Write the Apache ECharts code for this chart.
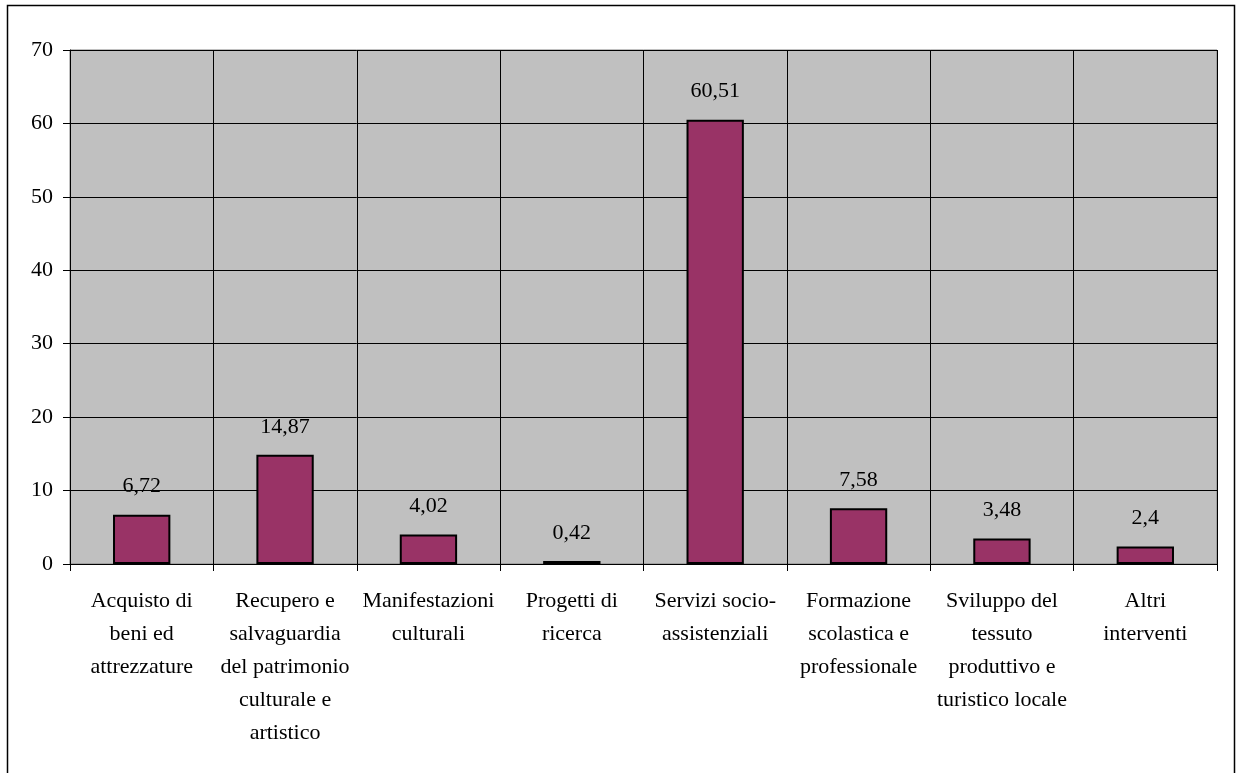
<!DOCTYPE html>
<html>
<head>
<meta charset="utf-8">
<script src="https://cdn.jsdelivr.net/npm/echarts@6/dist/echarts.min.js"></script>
<style>
  html, body { margin: 0; padding: 0; background: #ffffff; }
  #chart { width: 1238px; height: 773px; }
</style>
</head>
<body>
<div id="chart"></div>
<script>
// Categories of intervention (labels wrapped as drawn under the axis)
const categories = [
  'Acquisto di\nbeni ed\nattrezzature',
  'Recupero e\nsalvaguardia\ndel patrimonio\nculturale e\nartistico',
  'Manifestazioni\nculturali',
  'Progetti di\nricerca',
  'Servizi socio-\nassistenziali',
  'Formazione\nscolastica e\nprofessionale',
  'Sviluppo del\ntessuto\nproduttivo e\nturistico locale',
  'Altri\ninterventi'
];

// Percentage share for each category
const values = [6.72, 14.87, 4.02, 0.42, 60.51, 7.58, 3.48, 2.4];

// Value axis range
const yMin = 0;
const yMax = 70;
const yStep = 10;

const FONT = '"Liberation Serif", "Times New Roman", serif';

const chart = echarts.init(document.getElementById('chart'), null, { renderer: 'canvas' });

chart.setOption({
  animation: false,
  backgroundColor: '#ffffff',
  textStyle: { fontFamily: FONT, color: '#000000' },
  graphic: [{
    type: 'rect',
    shape: { x: 7.5, y: 5.5, width: 1227, height: 790 },
    style: { fill: 'none', stroke: '#000000', lineWidth: 1.5 },
    silent: true,
    z: -1
  }],
  grid: {
    left: 70,
    right: 21,
    top: 50,
    bottom: 209,
    show: true,
    backgroundColor: '#C0C0C0',
    borderColor: '#808080',
    borderWidth: 1
  },
  xAxis: {
    type: 'category',
    data: categories,
    boundaryGap: true,
    axisLine: { lineStyle: { color: '#000000', width: 1 } },
    axisTick: { show: true, length: 7, inside: false, lineStyle: { color: '#000000' } },
    splitLine: { show: true, lineStyle: { color: '#000000', width: 1 } },
    axisLabel: {
      interval: 0,
      margin: 21,
      fontFamily: FONT,
      fontSize: 22,
      lineHeight: 33,
      color: '#000000',
      align: 'center'
    }
  },
  yAxis: {
    type: 'value',
    min: yMin,
    max: yMax,
    interval: yStep,
    axisLine: { show: true, lineStyle: { color: '#000000', width: 1 } },
    axisTick: { show: true, length: 7, inside: false, lineStyle: { color: '#000000' } },
    splitLine: { show: true, lineStyle: { color: '#000000', width: 1 } },
    axisLabel: {
      margin: 17,
      fontFamily: FONT,
      fontSize: 22,
      color: '#000000'
    }
  },
  series: [{
    type: 'bar',
    data: values,
    barWidth: '40%',
    itemStyle: {
      color: '#993366',
      borderColor: '#000000',
      borderWidth: 2
    },
    label: {
      show: true,
      position: 'top',
      distance: 17,
      fontFamily: FONT,
      fontSize: 22,
      color: '#000000',
      formatter: p => String(p.value).replace('.', ',')
    }
  }]
});
</script>
</body>
</html>
